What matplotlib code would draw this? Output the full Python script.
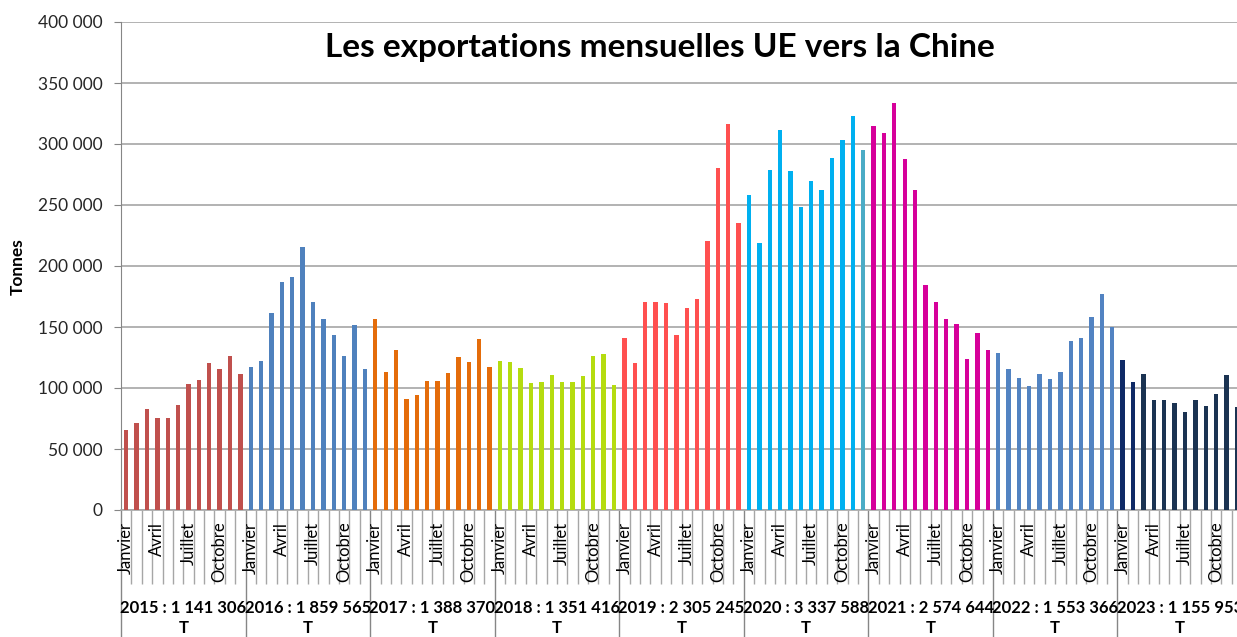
import matplotlib
matplotlib.use("Agg")
import matplotlib.pyplot as plt
import matplotlib.transforms as mtransforms
from matplotlib.ticker import FuncFormatter
import numpy as np

plt.rcParams["font.family"] = ["Lato", "DejaVu Sans"]

# monthly EU exports to China, tonnes
m2015 = [65600, 71000, 82800, 75700, 75700, 86000, 103500, 106600, 120200, 115600, 126500, 111500]
m2016 = [116900, 122400, 161200, 186600, 190700, 215600, 170200, 156500, 143200, 126500, 151600, 115600]
m2017 = [156600, 113100, 131100, 90700, 94000, 106000, 106000, 112300, 125700, 121000, 140200, 116900]
m2018 = [122400, 121000, 116100, 104100, 104900, 110400, 104900, 104900, 109600, 126200, 127900, 102500]
m2019 = [140700, 120200, 170200, 170200, 169400, 143200, 165300, 173200, 220200, 280300, 316100, 235200]
m2020 = [258200, 218600, 278900, 311500, 278100, 248100, 269400, 262300, 288500, 303500, 322900, 294800]
m2021 = [314800, 309000, 333600, 287700, 262300, 184400, 170500, 156600, 152500, 124000, 144800, 131100]
m2022 = [128700, 115300, 108200, 101600, 111500, 107400, 113100, 138500, 140700, 158200, 177300, 150000]
m2023 = [123200, 104900, 111500, 89900, 89900, 87400, 80300, 89900, 85200, 94800, 110700, 84400]

years = ["2015", "2016", "2017", "2018", "2019", "2020", "2021", "2022", "2023"]
year_totals = ["1 141 306", "1 859 565", "1 388 370", "1 351 416", "2 305 245",
               "3 337 588", "2 574 644", "1 553 366", "1 155 953"]
month_labels = {0: "Janvier", 3: "Avril", 6: "Juillet", 9: "Octobre"}
year_colors = ["#C0504D", "#4F81BD", "#E46C0A", "#B5DC10", "#FF5050",
               "#00B0F0", "#D6009A", "#5283C2", "#1B3352"]

monthly = [m2015, m2016, m2017, m2018, m2019, m2020, m2021, m2022, m2023]
values = np.concatenate(monthly)
n = len(values)
x = np.arange(n)

colors = []
for yc, m in zip(year_colors, monthly):
    colors += [yc] * len(m)
colors[5 * 12 + 11] = "#4BACC6"   # déc. 2020
colors[8 * 12 + 0] = "#0F2A66"    # jan. 2023
colors[8 * 12 + 1] = "#0F2A66"    # fév. 2023

W, H = 1237, 637
fig = plt.figure(figsize=(W / 100, H / 100), dpi=100)
step = 10.38
ax = fig.add_axes([121 / W, 127 / H, n * step / W, 488 / H])

ax.bar(x, values, width=0.42, color=colors, zorder=3)
ax.set_xlim(-0.5, n - 0.5)
ax.set_ylim(0, 400000)
ax.set_yticks(np.arange(0, 400001, 50000))
ax.yaxis.set_major_formatter(FuncFormatter(lambda v, p: f"{int(v):,}".replace(",", " ")))
ax.tick_params(axis="y", length=5, color="#868686", labelsize=12.5,
               labelcolor="#262626", pad=8)
ax.grid(axis="y", color="#A6A6A6", linewidth=1.2, zorder=0)

for s in ["top", "right"]:
    ax.spines[s].set_visible(False)
ax.spines["left"].set_color("#868686")
ax.spines["bottom"].set_color("#A6A6A6")
ax.spines["bottom"].set_linewidth(1.2)

# category axis: month separators (minor) and year separators (major)
ax.set_xticks(np.arange(0, n + 1, 12) - 0.5)
ax.set_xticks(np.arange(0, n + 1) - 0.5, minor=True)
ax.tick_params(axis="x", which="major", length=92, color="#868686", width=1.0, labelbottom=False)
ax.tick_params(axis="x", which="minor", length=53, color="#A6A6A6", width=1.0, labelbottom=False)

trans = mtransforms.blended_transform_factory(ax.transData, ax.transAxes)
for i in range(n):
    lab = month_labels.get(i % 12)
    if lab:
        ax.text(i, -0.024, lab, rotation=90, ha="center", va="top",
                fontsize=12, color="#000000", transform=trans)
for k, (yr, tot) in enumerate(zip(years, year_totals)):
    xc = k * 12 + 5.5
    ax.text(xc, -0.201, f"{yr} : {tot}", ha="center", va="center",
            fontsize=12, fontweight="bold", transform=trans, clip_on=False)
    ax.text(xc, -0.242, "T", ha="center", va="center",
            fontsize=12, fontweight="bold", transform=trans)

fig.text(660 / W, 1 - 47 / H, "Les exportations mensuelles UE vers la Chine",
         ha="center", va="center", fontsize=24, fontweight="bold")
fig.text(18 / W, 1 - 267 / H, "Tonnes", rotation=90, ha="center", va="center",
         fontsize=12.5, fontweight="bold")

fig.savefig("out.png", dpi=100)
